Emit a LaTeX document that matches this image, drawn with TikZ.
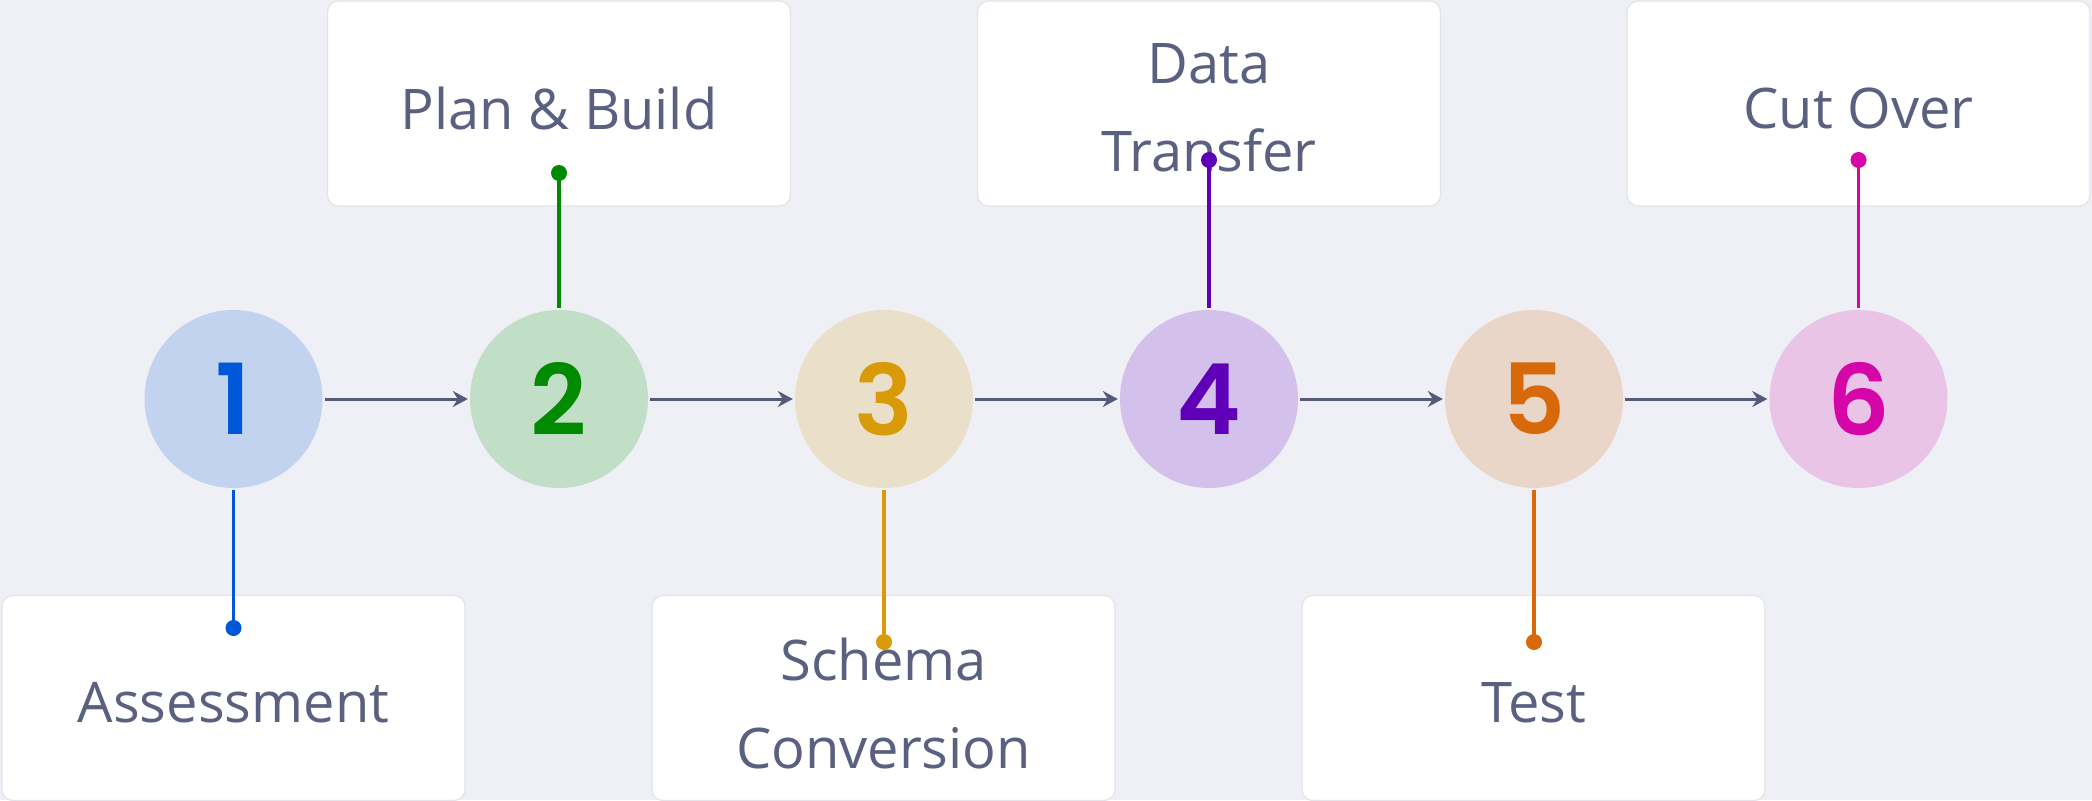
\documentclass[tikz,border=0pt]{standalone}
\usepackage{fontspec}
\setmainfont{Open Sans}
\newfontfamily\numfont{Poppins SemiBold}
\usetikzlibrary{arrows.meta}
\definecolor{bgc}{HTML}{EFF0F5}
\definecolor{boxline}{HTML}{E3E4EA}
\definecolor{txt}{HTML}{5A6180}
\definecolor{arr}{HTML}{545B7A}
\definecolor{ca}{HTML}{0057D9}\definecolor{fa}{HTML}{C2D3F0}
\definecolor{cb}{HTML}{008A00}\definecolor{fb}{HTML}{C1DEC6}
\definecolor{cc}{HTML}{D99A0A}\definecolor{fc}{HTML}{EADFC8}
\definecolor{cd}{HTML}{5F00B8}\definecolor{fd}{HTML}{D4C1EB}
\definecolor{ce}{HTML}{D8690A}\definecolor{fe}{HTML}{EAD6C9}
\definecolor{cf}{HTML}{D505A8}\definecolor{ff}{HTML}{EAC4E7}
\tikzset{
  stepcircle/.style={circle, inner sep=0pt, minimum size=178pt, font={\numfont\fontsize{98}{98}\selectfont}},
  labelbox/.style={draw=boxline, line width=1.2pt, fill=white, rounded corners=11pt, minimum width=463pt, minimum height=205pt, inner sep=0pt},
  labeltext/.style={text=txt, align=center, inner sep=0pt, font={\fontsize{56}{88}\selectfont}},
  flow/.style={draw=arr, line width=3pt, -{Stealth[length=15pt, width=16pt, inset=5pt]}, shorten <=2pt, shorten >=2pt},
  stem/.style={line width=3.5pt, shorten <=2pt},
  dotmark/.style={circle, inner sep=0pt, minimum size=16pt}
}
\begin{document}
\begin{tikzpicture}[x=1pt,y=-1pt]
\path[fill=bgc] (0,0) rectangle (2092,800);
\useasboundingbox (0,0) rectangle (2092,800);
% boxes
\node[labelbox] (b1) at (233.5,698) {};
\node[labelbox] (b2) at (559,103.5) {};
\node[labelbox] (b3) at (883.5,698) {};
\node[labelbox] (b4) at (1209,103.5) {};
\node[labelbox] (b5) at (1533.5,698) {};
\node[labelbox] (b6) at (1858.5,103.5) {};
% labels
\node[labeltext] (t1) at (233.5,703) {Assessment};
\node[labeltext] (t2) at (559,108) {Plan \& Build};
\node[labeltext] (t3) at (883.5,703) {Schema\\Conversion};
\node[labeltext] (t4) at (1209,108) {Data\\Transfer};
\node[labeltext] (t5) at (1533.5,703) {Test};
\node[labeltext] (t6) at (1858.5,108) {Cut Over};
% circles
\node[stepcircle, fill=fa, text=ca] (c1) at (233.5,399) {1};
\node[stepcircle, fill=fb, text=cb] (c2) at (559,399) {2};
\node[stepcircle, fill=fc, text=cc] (c3) at (884,399) {3};
\node[stepcircle, fill=fd, text=cd] (c4) at (1209,399) {4};
\node[stepcircle, fill=fe, text=ce] (c5) at (1534,399) {5};
\node[stepcircle, fill=ff, text=cf] (c6) at (1858.5,399) {6};
% flow arrows
\draw[flow] (c1) -- (c2);
\draw[flow] (c2) -- (c3);
\draw[flow] (c3) -- (c4);
\draw[flow] (c4) -- (c5);
\draw[flow] (c5) -- (c6);
% stems and dots
\node[dotmark, fill=ca] (d1) at (233.5,628) {};
\node[dotmark, fill=cb] (d2) at (559,173) {};
\node[dotmark, fill=cc] (d3) at (884,642) {};
\node[dotmark, fill=cd] (d4) at (1209,160) {};
\node[dotmark, fill=ce] (d5) at (1534,642) {};
\node[dotmark, fill=cf] (d6) at (1858.5,160) {};
\draw[stem, draw=ca] (c1.south) -- (d1.center);
\draw[stem, draw=cb] (c2.north) -- (d2.center);
\draw[stem, draw=cc] (c3.south) -- (d3.center);
\draw[stem, draw=cd] (c4.north) -- (d4.center);
\draw[stem, draw=ce] (c5.south) -- (d5.center);
\draw[stem, draw=cf] (c6.north) -- (d6.center);
\end{tikzpicture}
\end{document}
